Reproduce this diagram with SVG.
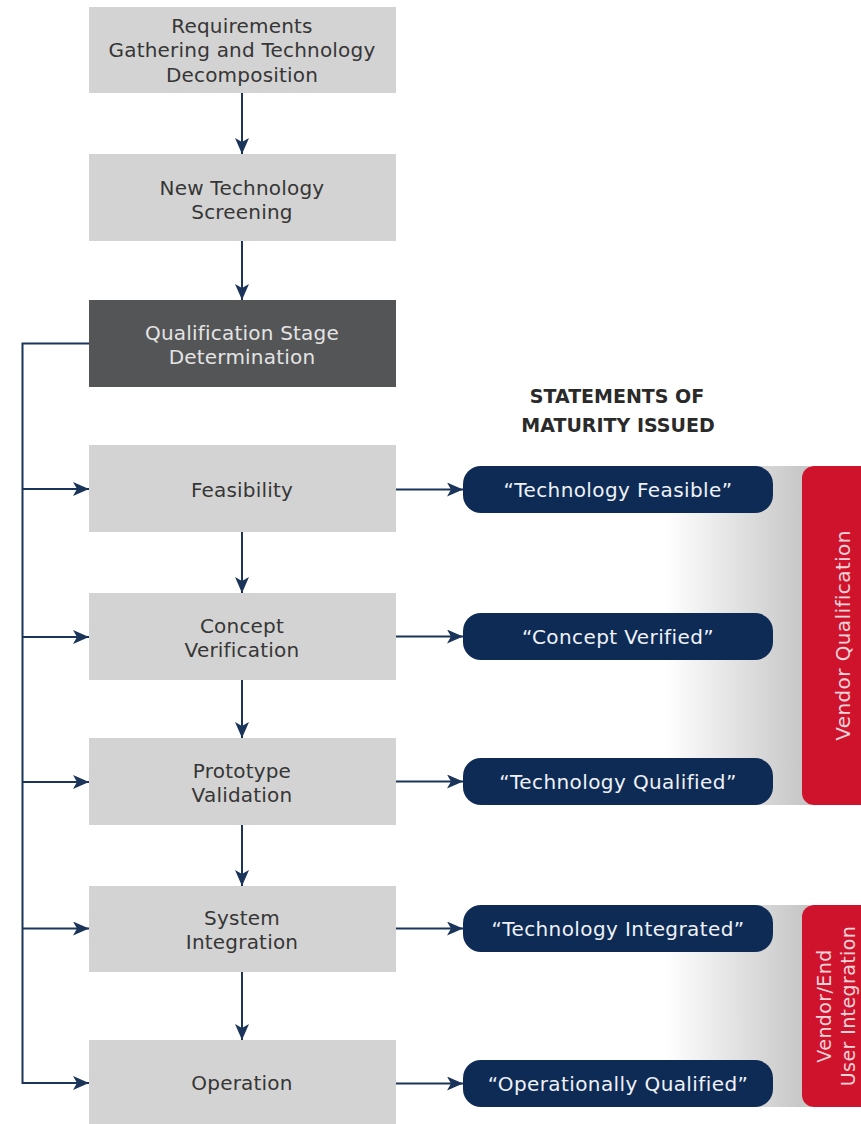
<svg xmlns="http://www.w3.org/2000/svg" width="861" height="1124" viewBox="0 0 861 1124">
<style>
.box{fill:#d3d3d3}
.dark{fill:#545557}
.bt{font-family:"DejaVu Sans",sans-serif;font-size:20px;fill:#363636;text-anchor:middle;letter-spacing:0.2px}
.dt{font-family:"DejaVu Sans",sans-serif;font-size:20px;fill:#e4e4e4;text-anchor:middle;letter-spacing:0.2px}
.pill{fill:#0e2b56}
.pt{font-family:"DejaVu Sans",sans-serif;font-size:20px;fill:#eef2f7;text-anchor:middle;letter-spacing:0.4px}
.hd{font-family:"DejaVu Sans",sans-serif;font-size:19px;font-weight:bold;fill:#2a2a2a;text-anchor:middle}
.red{fill:#d0132d}
.rt{font-family:"DejaVu Sans",sans-serif;font-size:20px;fill:#f6d3d8;text-anchor:middle;letter-spacing:0.4px}
.rt2{font-family:"DejaVu Sans",sans-serif;font-size:19px;fill:#f6d3d8;text-anchor:middle;letter-spacing:0.4px}
.cn{stroke:#1b3459;stroke-width:2;fill:none;marker-end:url(#ah)}
</style>
<defs>
<marker id="ah" markerUnits="userSpaceOnUse" markerWidth="16" markerHeight="14" refX="16" refY="7" orient="auto" viewBox="0 0 16 14">
<path d="M0,0 L16,7 L0,14 L4,7 Z" fill="#1b3459"/>
</marker>
<linearGradient id="gb" gradientUnits="userSpaceOnUse" x1="665" y1="0" x2="800" y2="0">
<stop offset="0" stop-color="#ffffff"/>
<stop offset="1" stop-color="#c8c8c8"/>
</linearGradient>
</defs>
<rect width="861" height="1124" fill="#ffffff"/>

<g id="band1">
<rect x="660" y="466" width="150" height="339" fill="url(#gb)"/>
</g>
<g id="band2">
<rect x="660" y="905" width="150" height="202" fill="url(#gb)"/>
</g>

<g id="connectors">
<line class="cn" x1="242" y1="93" x2="242" y2="154"/>
<line class="cn" x1="242" y1="241" x2="242" y2="300"/>
<line class="cn" x1="242" y1="532" x2="242" y2="593"/>
<line class="cn" x1="242" y1="680" x2="242" y2="738"/>
<line class="cn" x1="242" y1="825" x2="242" y2="886"/>
<line class="cn" x1="242" y1="972" x2="242" y2="1040"/>
<path class="cn" d="M89,343.5 H22.5 V1083 H89"/>
<line class="cn" x1="22.5" y1="489" x2="89" y2="489"/>
<line class="cn" x1="22.5" y1="637" x2="89" y2="637"/>
<line class="cn" x1="22.5" y1="782" x2="89" y2="782"/>
<line class="cn" x1="22.5" y1="928.5" x2="89" y2="928.5"/>
<line class="cn" x1="396" y1="489.5" x2="463" y2="489.5"/>
<line class="cn" x1="396" y1="636.5" x2="463" y2="636.5"/>
<line class="cn" x1="396" y1="781.5" x2="463" y2="781.5"/>
<line class="cn" x1="396" y1="928.5" x2="463" y2="928.5"/>
<line class="cn" x1="396" y1="1083.5" x2="463" y2="1083.5"/>
</g>

<g id="requirements">
<rect class="box" x="89" y="7" width="307" height="86"/>
<text class="bt" x="242" y="32.5">Requirements</text>
<text class="bt" x="242" y="57">Gathering and Technology</text>
<text class="bt" x="242" y="81.5">Decomposition</text>
</g>
<g id="screening">
<rect class="box" x="89" y="154" width="307" height="87"/>
<text class="bt" x="242" y="194.5">New Technology</text>
<text class="bt" x="242" y="218.5">Screening</text>
</g>
<g id="determination">
<rect class="dark" x="89" y="300" width="307" height="87"/>
<text class="dt" x="242" y="339.5">Qualification Stage</text>
<text class="dt" x="242" y="363.5">Determination</text>
</g>
<g id="feasibility">
<rect class="box" x="89" y="445" width="307" height="87"/>
<text class="bt" x="242" y="496.5">Feasibility</text>
</g>
<g id="concept">
<rect class="box" x="89" y="593" width="307" height="87"/>
<text class="bt" x="242" y="632.5">Concept</text>
<text class="bt" x="242" y="656.5">Verification</text>
</g>
<g id="prototype">
<rect class="box" x="89" y="738" width="307" height="87"/>
<text class="bt" x="242" y="777.5">Prototype</text>
<text class="bt" x="242" y="801.5">Validation</text>
</g>
<g id="system">
<rect class="box" x="89" y="886" width="307" height="86"/>
<text class="bt" x="242" y="925">System</text>
<text class="bt" x="242" y="949">Integration</text>
</g>
<g id="operation">
<rect class="box" x="89" y="1040" width="307" height="90"/>
<text class="bt" x="242" y="1090">Operation</text>
</g>

<g id="header">
<text class="hd" x="617" y="403">STATEMENTS OF</text>
<text class="hd" x="618" y="432">MATURITY ISSUED</text>
</g>

<g id="pill-feasible">
<rect class="pill" x="463" y="466" width="310" height="47" rx="18"/>
<text class="pt" x="618" y="496.5">“Technology Feasible”</text>
</g>
<g id="pill-concept">
<rect class="pill" x="463" y="613" width="310" height="47" rx="18"/>
<text class="pt" x="618" y="643.5">“Concept Verified”</text>
</g>
<g id="pill-qualified">
<rect class="pill" x="463" y="758" width="310" height="47" rx="18"/>
<text class="pt" x="618" y="788.5">“Technology Qualified”</text>
</g>
<g id="pill-integrated">
<rect class="pill" x="463" y="905" width="310" height="47" rx="18"/>
<text class="pt" x="618" y="935.5">“Technology Integrated”</text>
</g>
<g id="pill-operational">
<rect class="pill" x="463" y="1060" width="310" height="47" rx="18"/>
<text class="pt" x="618" y="1090.5">“Operationally Qualified”</text>
</g>

<g id="vendor-qualification">
<rect class="red" x="802" y="466" width="80" height="339" rx="12"/>
<text class="rt" transform="translate(850,635.5) rotate(-90)">Vendor Qualification</text>
</g>
<g id="vendor-end-user-integration">
<rect class="red" x="802" y="905" width="80" height="202" rx="12"/>
<text class="rt2" transform="translate(831,1006) rotate(-90)">Vendor/End</text>
<text class="rt2" transform="translate(855,1006) rotate(-90)">User Integration</text>
</g>
</svg>
